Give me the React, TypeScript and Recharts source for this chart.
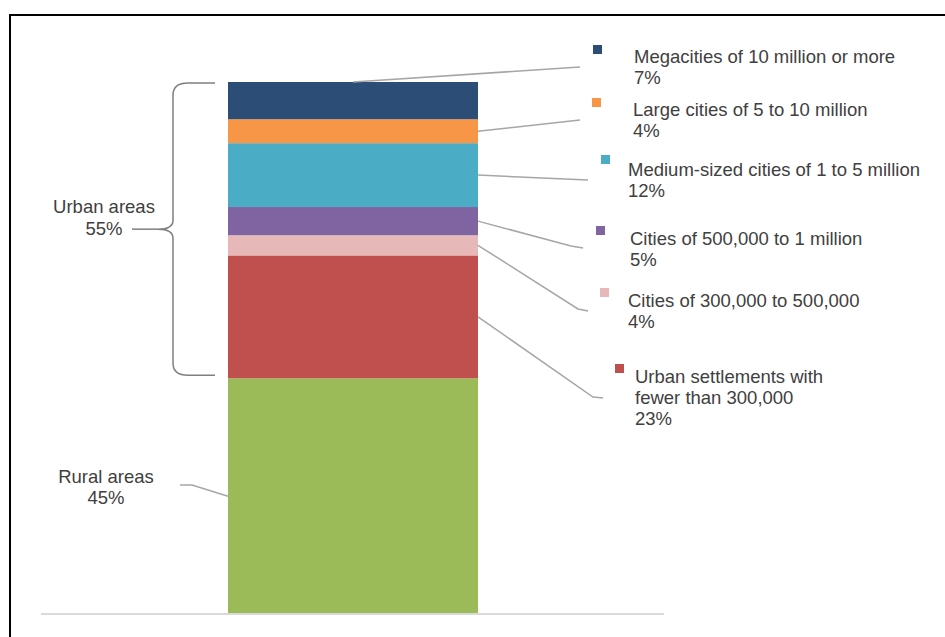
import React from 'react'
import { BarChart, Bar, XAxis, YAxis, ReferenceLine } from 'recharts'

// bottom -> top of the single stacked column (shares read from the column heights)
const segmentKeys = ['rural', 'small', 'c300', 'c500', 'medium', 'large', 'mega']
const segmentValues = [44.3, 23.1, 3.8, 5.3, 12, 4.5, 7]
const segmentColors = ['#9BBB59', '#C0504D', '#E6B9B8', '#8064A2', '#4BACC6', '#F79646', '#2C4D75']
const segmentLabels = [
  ['Rural areas', '45%'],
  ['Urban settlements with', 'fewer than 300,000', '23%'],
  ['Cities of 300,000 to 500,000', '4%'],
  ['Cities of 500,000 to 1 million', '5%'],
  ['Medium-sized cities of 1 to 5 million', '12%'],
  ['Large cities of 5 to 10 million', '4%'],
  ['Megacities of 10 million or more', '7%'],
]
const urbanLabel = ['Urban areas', '55%']

const data = [
  segmentKeys.reduce((row: any, k, i) => {
    row[k] = segmentValues[i]
    return row
  }, { name: 'World' }),
]

// annotation layout: text anchor, first baseline, legend square, leader path end
const labelLayout = [
  { tx: 106, ty: 483, anchor: 'middle', sq: null, from: 'left', path: [[192, 485], [180, 485]] },
  { tx: 635, ty: 383, anchor: 'start', sq: [615, 364], from: 'right', path: [[593, 397], [603, 398]] },
  { tx: 628, ty: 307, anchor: 'start', sq: [600, 288], from: 'right', path: [[578, 309], [588, 311]] },
  { tx: 630, ty: 245, anchor: 'start', sq: [596, 226], from: 'right', path: [[571, 246], [583, 248]] },
  { tx: 628, ty: 176, anchor: 'start', sq: [601, 155], from: 'right', path: [[588, 180]] },
  { tx: 633, ty: 116, anchor: 'start', sq: [592, 98], from: 'right', path: [[580, 120]] },
  { tx: 634, ty: 63, anchor: 'start', sq: [593, 45], from: 'top', path: [[580, 67]] },
]

const textColor = '#404040'
const leaderColor = '#A6A6A6'
const font = '"Liberation Sans", Arial, sans-serif'
const fs = 18.5

function Segment(props: any) {
  const { x, y, width, height, fill, seg } = props
  const lay = labelLayout[seg]
  let sx = x + width
  let sy = y + height / 2
  if (lay.from === 'top') {
    sx = x + width / 2
    sy = y
  } else if (lay.from === 'left') {
    sx = x
  }
  const pts = [[sx, sy], ...lay.path]
  const lines = segmentLabels[seg]

  // brace over all urban segments, drawn with the rural column
  let brace = null
  if (seg === 0) {
    const unit = height / segmentValues[0]
    const urbanTotal = segmentValues.slice(1).reduce((a, b) => a + b, 0)
    const top = y - urbanTotal * unit + 1
    const bottom = y - 3
    const mid = (top + bottom) / 2
    const bx = 173
    brace = (
      <g>
        <path
          d={`M 215 ${top} L 188 ${top} Q ${bx} ${top} ${bx} ${top + 12} L ${bx} ${mid - 9} Q ${bx} ${mid} ${bx - 15} ${mid}
              Q ${bx} ${mid} ${bx} ${mid + 9} L ${bx} ${bottom - 12} Q ${bx} ${bottom} 188 ${bottom} L 215 ${bottom}`}
          fill="none"
          stroke="#7F7F7F"
          strokeWidth={1.5}
        />
        <line x1={132} y1={mid} x2={bx - 15} y2={mid} stroke="#7F7F7F" strokeWidth={1.5} />
        <text x={104} y={213} textAnchor="middle" fontSize={fs} fill={textColor} fontFamily={font}>
          <tspan x={104} dy={0}>{urbanLabel[0]}</tspan>
          <tspan x={104} dy={22}>{urbanLabel[1]}</tspan>
        </text>
      </g>
    )
  }

  return (
    <g>
      <rect x={x} y={y} width={width} height={height} fill={fill} />
      <polyline
        points={pts.map((p) => p.join(',')).join(' ')}
        fill="none"
        stroke={leaderColor}
        strokeWidth={1.5}
      />
      {lay.sq && <rect x={lay.sq[0]} y={lay.sq[1]} width={9} height={9} fill={fill} />}
      <text x={lay.tx} y={lay.ty} textAnchor={lay.anchor} fontSize={fs} fill={textColor} fontFamily={font}>
        {lines.map((t, i) => (
          <tspan key={i} x={lay.tx} dy={i === 0 ? 0 : 21}>
            {t}
          </tspan>
        ))}
      </text>
      {brace}
    </g>
  )
}

export default function App() {
  return (
    <div style={{ position: 'absolute', left: 0, top: 0, width: 945, height: 637, background: '#fff', overflow: 'hidden' }}>
      <div
        style={{
          position: 'absolute',
          left: 9,
          top: 14,
          width: 945,
          height: 640,
          borderTop: '2px solid #000',
          borderLeft: '2px solid #000',
        }}
      />
      <div style={{ position: 'absolute', left: 0, top: 0 }}>
        <BarChart width={945} height={637} data={data} margin={{ top: 82, right: 281, bottom: 23, left: 41 }}>
          <XAxis dataKey="name" hide />
          <YAxis type="number" domain={[0, 100]} hide />
          <ReferenceLine y={0} stroke="#D9D9D9" strokeWidth={2} />
          {segmentKeys.map((k, i) => (
            <Bar
              key={k}
              dataKey={k}
              stackId="a"
              barSize={250}
              fill={segmentColors[i]}
              isAnimationActive={false}
              shape={(p: any) => <Segment {...p} seg={i} />}
            />
          ))}
        </BarChart>
      </div>
    </div>
  )
}
